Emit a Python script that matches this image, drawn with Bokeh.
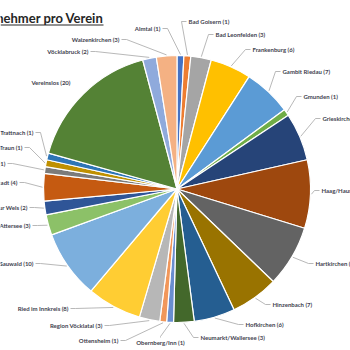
import numpy as np
from bokeh.plotting import figure
from bokeh.models import Range1d, ColumnDataSource
from bokeh.core.properties import value
from bokeh.embed import file_html
from bokeh.resources import INLINE

# ---- data ----
title_text = "Teilnehmer pro Verein"
clubs = ["Almtal", "Bad Goisern", "Bad Leonfelden", "Frankenburg", "Gambit Riedau",
         "Gmunden", "Grieskirchen", "Haag/Hausruck", "Hartkirchen", "Hinzenbach",
         "Hofkirchen", "Neumarkt/Wallersee", "Obernberg/Inn", "Ottensheim",
         "Region Vöcklatal", "Ried im Innkreis", "Sauwald", "St. Georgen/Attersee",
         "Schachkultur Wels", "Schwanenstadt", "Steyr", "Traun",
         "Taufkirchen/Trattnach", "Vereinslos", "Vöcklabruck", "Waizenkirchen"]
counts = [1, 1, 3, 6, 7, 1, 7, 10, 9, 7, 6, 3, 1, 1, 3, 8, 10, 3, 2, 4, 1, 1, 1, 20, 2, 3]

# ---- styles ----
colors = ["#4472C4", "#ED7D31", "#A5A5A5", "#FFC000", "#5B9BD5", "#70AD47",
          "#264478", "#9E480E", "#636363", "#997300", "#255E91", "#43682B",
          "#698ED0", "#F1975A", "#B7B7B7", "#FFCD33", "#7CAFDD", "#8CC168",
          "#2F5597", "#C55A11", "#7B7B7B", "#BF9000", "#2E75B6", "#548235",
          "#8FAADC", "#F4B183"]

# label layout in page pixels: (edge x, center y, side) side=+1 label right of leader, -1 left, 0 below
label_layout = [
    (160, 28, -1), (188, 21, 1), (215, 34, 1), (252, 49, 1), (282, 71, 1),
    (303, 96, 1), (322, 118, 1), (321, 190, 1), (315, 263, 1), (272, 304, 1),
    (245, 324, 1), (200, 337, 1), (160, 342, 0), (118, 340, -1),
    (102, 325, -1), (68, 308, -1), (33, 263, -1), (30, 225, -1),
    (27, 207, -1), (17, 182, -1), (5, 163, -1), (22, 147, -1),
    (33, 132, -1), (70, 82, -2), (88, 51, -1), (119, 39, -1)]

W = H = 350
cx, cy_px, R = 176.5, 188.5, 133.5
cy = H - cy_px

vals = np.array(counts, dtype=float)
total = vals.sum()
cum_end = np.cumsum(vals)
cum_start = cum_end - vals
start = np.pi / 2 - 2 * np.pi * cum_start / total
end = np.pi / 2 - 2 * np.pi * cum_end / total
mid = (start + end) / 2

p = figure(width=W, height=H, x_range=Range1d(0, W), y_range=Range1d(0, H),
           output_backend="svg", toolbar_location=None, min_border=0)
p.axis.visible = False
p.grid.visible = False
p.outline_line_color = None
p.background_fill_color = "white"
p.border_fill_color = "white"

src = ColumnDataSource(dict(start=start, end=end, color=colors))
p.wedge(x=cx, y=cy, radius=R, start_angle="start", end_angle="end", direction="clock",
        fill_color="color", line_color="white", line_width=1.2, source=src)

# labels and leaders
lx, ly, ltxt, lalign = [], [], [], []
rx, ry, rtxt = [], [], []
cxs, cys, ctxt = [], [], []
xs, ys = [], []
for i, (name, c) in enumerate(zip(clubs, counts)):
    ex, ey_px, side = label_layout[i]
    ey = H - ey_px
    txt = f"{name} ({c})"
    px = cx + (R + 1) * np.cos(mid[i])
    py = cy + (R + 1) * np.sin(mid[i])
    if side == 1:
        lx.append(ex); ly.append(ey); ltxt.append(txt)
        xs.append([px, ex - 7, ex - 2]); ys.append([py, ey, ey])
    elif side == -1:
        rx.append(ex); ry.append(ey); rtxt.append(txt)
        xs.append([px, ex + 7, ex + 2]); ys.append([py, ey, ey])
    elif side == -2:
        rx.append(ex); ry.append(ey); rtxt.append(txt)
    else:
        cxs.append(ex); cys.append(ey); ctxt.append(txt)
        xs.append([px, ex, ex]); ys.append([py, ey + 6, ey + 5])

p.multi_line(xs=xs, ys=ys, line_color="#A6A6A6", line_width=0.8)

common = dict(text_font=value("Lato"), text_font_size="6px", text_color="#3F3F4F",
              text_baseline="middle", text_font_style="bold")
p.text(x=lx, y=ly, text=ltxt, text_align="left", **common)
p.text(x=rx, y=ry, text=rtxt, text_align="right", **common)
p.text(x=cxs, y=cys, text=ctxt, text_align="center", **common)

# title (cropped at left edge), underlined
p.text(x=[103], y=[H - 17], text=[title_text], text_align="right", text_baseline="middle",
       text_font=value("Lato"), text_font_size="13px", text_font_style="bold",
       text_color="#262626")
p.segment(x0=[0], y0=[H - 24.5], x1=[103], y1=[H - 24.5], line_color="#262626", line_width=1.2)

open("out.html", "w").write(file_html(p, INLINE))
